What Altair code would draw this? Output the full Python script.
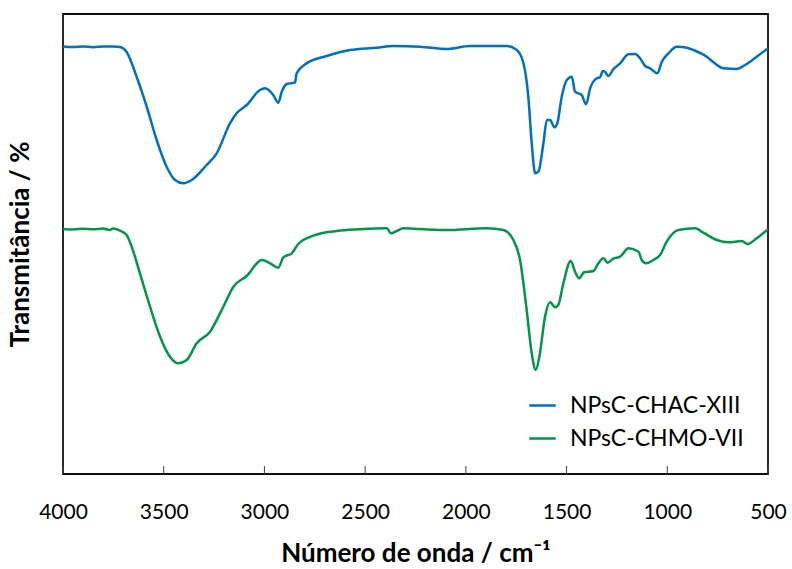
import altair as alt
import pandas as pd

# Wavenumbers (cm-1) and transmittance (arbitrary units)
blue_wn = [4000, 3950, 3900, 3850, 3800, 3750, 3717, 3684, 3634, 3584, 3535, 3485, 3444, 3403,
           3361, 3287, 3237, 3171, 3138, 3088, 3022, 2997, 2956, 2931, 2914, 2889, 2848, 2840,
           2790, 2691, 2575, 2442, 2361, 2227, 2095, 1979, 1797, 1747, 1714, 1690, 1673, 1656,
           1640, 1615, 1598, 1582, 1560, 1546, 1524, 1499, 1474, 1458, 1425, 1403, 1383, 1350,
           1334, 1320, 1309, 1292, 1268, 1234, 1193, 1160, 1135, 1110, 1085, 1049, 1027, 994,
           953, 903, 870, 804, 771, 721, 655, 614, 556, 500]
blue_t = [427.5, 427, 427.5, 426.8, 427.5, 427.5, 427, 422, 397, 367, 334, 307, 294, 290.7,
          294, 309, 320.7, 350.7, 360.7, 369, 384, 385.7, 379, 371.3, 382.3, 390, 391.7, 400.7,
          410.7, 418, 424, 426.3, 428, 427.3, 425, 428, 428, 424, 410.7, 377.3, 330.7, 300.7,
          302.3, 330.7, 354, 354, 346.7, 350.7, 377.3, 394, 397.3, 382.3, 379, 369.7, 385.7, 395.7,
          396.7, 403, 402.3, 398, 404.7, 410.7, 419.7, 420, 415.7, 408, 405.7, 400.7, 412.3, 420.7,
          427.3, 426.3, 424, 417.3, 411.7, 405.7, 405, 409, 417.3, 425.7]

green_wn = [4000, 3950, 3900, 3850, 3800, 3770, 3750, 3717, 3684, 3659, 3618, 3568, 3518, 3469,
            3427, 3386, 3336, 3270, 3204, 3154, 3088, 3013, 2972, 2931, 2906, 2864, 2832, 2757,
            2641, 2525, 2393, 2371, 2343, 2310, 2227, 2095, 1896, 1814, 1764, 1731, 1698, 1673,
            1653, 1635, 1607, 1582, 1557, 1541, 1516, 1479, 1458, 1438, 1413, 1367, 1342, 1317,
            1297, 1268, 1234, 1193, 1143, 1127, 1105, 1069, 1036, 1003, 945, 862, 821, 754, 697,
            630, 602, 556, 500]
green_t = [245, 244.5, 245.3, 244.7, 245.5, 244, 245.5, 243.3, 239, 227.3, 200.7, 167.3, 137.3, 117.3,
           110.7, 114, 130.7, 142.3, 167.3, 187.3, 198, 214, 210.7, 206.3, 216.7, 220.7, 230, 238.3,
           243, 244.7, 245.7, 240.7, 243, 245.7, 245, 244, 245.7, 244, 234, 214, 164, 120.7,
           104, 117.3, 157.3, 171.7, 166.7, 169, 190.7, 213, 202.3, 195.7, 201.7, 203, 210.7, 215.7,
           211.3, 215.3, 217.3, 225.7, 222.3, 214, 210.7, 214, 219, 232.3, 244, 245.7, 241.3, 234, 231.7,
           233, 230, 235.7, 244.7]

series_names = ["NPsC-CHAC-XIII", "NPsC-CHMO-VII"]
series_colors = ["#0070C0", "#00964B"]
x_ticks = [4000, 3500, 3000, 2500, 2000, 1500, 1000, 500]

df = pd.concat([
    pd.DataFrame({"wn": blue_wn, "t": blue_t, "serie": series_names[0], "o": range(len(blue_wn))}),
    pd.DataFrame({"wn": green_wn, "t": green_t, "serie": series_names[1], "o": range(len(green_wn))}),
])
ticks_df = pd.DataFrame({"wn": x_ticks})

FONT = "Lato"

xscale = alt.Scale(domain=[4000, 500], nice=False)
yscale = alt.Scale(domain=[0, 460], nice=False, zero=False)

lines = alt.Chart(df).mark_line(strokeWidth=2.5, interpolate="monotone").encode(
    x=alt.X("wn:Q", scale=xscale,
            axis=alt.Axis(values=x_ticks, format="d", title="Número de onda / cm⁻¹",
                          grid=False, ticks=False, domain=False, labelFlush=False,
                          labelFontSize=21, labelColor="#000", labelPadding=27,
                          titleFontSize=26, titleFontWeight="bold", titleColor="#000",
                          titlePadding=18, labelFont=FONT, titleFont=FONT)),
    y=alt.Y("t:Q", scale=yscale,
            axis=alt.Axis(labels=False, ticks=False, domain=False, grid=False,
                          title="Transmitância / %", titleFontSize=26, titleFontWeight="bold",
                          titleColor="#000", titlePadding=30, titleFont=FONT)),
    color=alt.Color("serie:N",
                    scale=alt.Scale(domain=series_names, range=series_colors),
                    legend=alt.Legend(title=None, orient="none", legendX=465, legendY=377,
                                      symbolType="stroke", symbolSize=700, symbolStrokeWidth=2.5,
                                      labelFontSize=23, labelFont=FONT, labelColor="#000",
                                      labelLimit=400, rowPadding=6, labelOffset=13)),
    order="o:Q",
)

tick_rules = alt.Chart(ticks_df).mark_rule(color="#444", strokeWidth=1).encode(
    x=alt.X("wn:Q", scale=xscale),
    y=alt.value(460),
    y2=alt.value(452),
)

chart = alt.layer(lines, tick_rules).properties(
    width=705, height=460,
    autosize=alt.AutoSizeParams(type="none"),
    padding={"left": 63, "top": 14, "right": 24, "bottom": 95},
    background="white",
).configure_view(stroke="#111", strokeWidth=1.8)

chart.save("out.html", embed_options={"renderer": "svg", "actions": False})
